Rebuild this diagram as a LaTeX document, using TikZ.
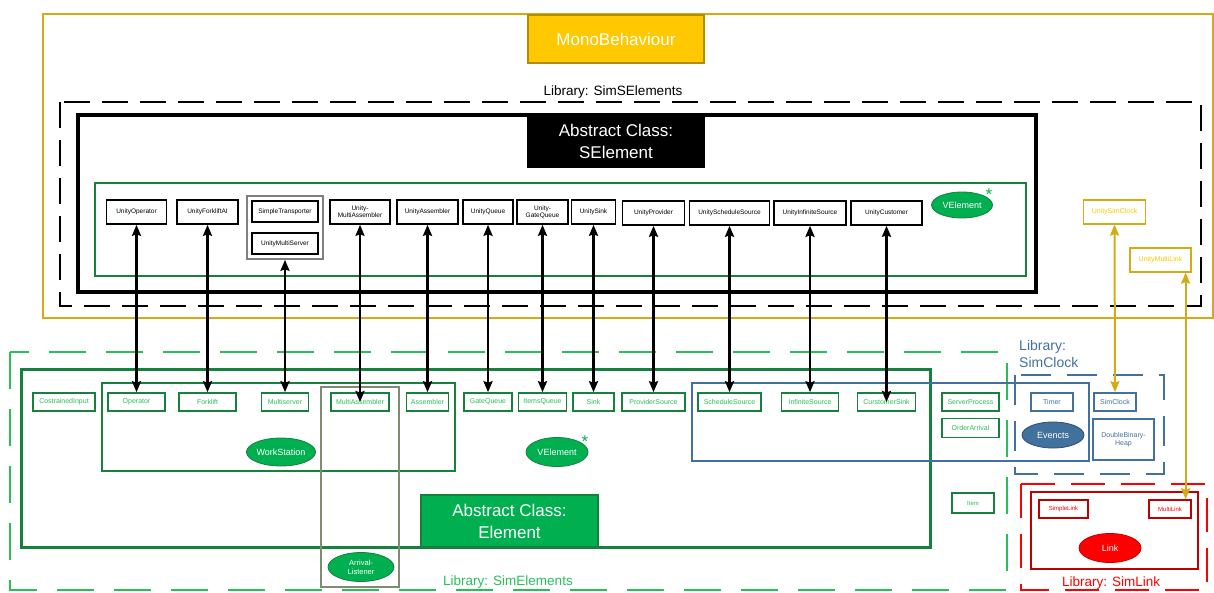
\documentclass[tikz,border=0pt]{standalone}
\usepackage{fontspec}
\setmainfont{Liberation Sans}
\usetikzlibrary{shapes.geometric,arrows.meta,fit,positioning}
\definecolor{monogold}{RGB}{255,200,0}
\definecolor{goldline}{RGB}{214,170,20}
\definecolor{monoedge}{RGB}{180,140,0}
\definecolor{elemgreen}{RGB}{0,176,80}
\definecolor{darkgreen}{RGB}{20,130,60}
\definecolor{textgreen}{RGB}{40,190,90}
\definecolor{clockblue}{RGB}{65,113,156}
\definecolor{linkred}{RGB}{255,0,0}
\definecolor{darkred}{RGB}{192,0,0}
\definecolor{groupgray}{RGB}{127,127,127}
\definecolor{listenergray}{RGB}{128,140,112}
\tikzset{
  unitybox/.style = {draw=black, line width=1.6pt, minimum height=24pt, inner sep=1pt, align=center, font=\fontsize{6.5}{7}\selectfont},
  elembox/.style = {draw=darkgreen, line width=1.6pt, text=textgreen, minimum height=18pt, inner sep=1pt, align=center, font=\fontsize{7}{8}\selectfont},
  clockbox/.style = {elembox, draw=clockblue, text=clockblue},
  linkbox/.style = {elembox, draw=darkred, text=linkred, font=\fontsize{6}{7}\selectfont},
  monobox/.style = {unitybox, draw=goldline, text=monogold, line width=1.2pt, font=\fontsize{7}{8}\selectfont},
  classnode/.style = {ellipse, draw=darkgreen, line width=0.8pt, fill=elemgreen, text=white, inner sep=0pt, align=center, font=\fontsize{9}{10}\selectfont},
  titlebox/.style = {draw, line width=1.5pt, text=white, inner sep=0pt, align=center, font=\fontsize{17}{22}\selectfont},
  liblabel/.style = {inner sep=0pt, font=\fontsize{13.5}{16}\selectfont},
  greenstar/.style = {text=elemgreen, inner sep=0pt, font=\fontsize{17}{17}\selectfont}
}

\begin{document}
\begin{tikzpicture}[x=1pt, y=-1pt, >={Stealth[length=11pt, width=9pt, inset=1.5pt]}]
\useasboundingbox (0,0) rectangle (1214,592);

% MonoBehaviour and library SimSElements
\draw[goldline, line width=2.2pt] (43,14) rectangle (1213,318);
\node[titlebox, draw=monoedge, fill=monogold, minimum width=176pt, minimum height=48pt] (mono) at (616,39) {MonoBehaviour};
\node[liblabel] (simselib) at (613,92) {Library: SimSElements};
\draw[black, line width=2.6pt, dash pattern=on 26pt off 12pt] (60,102) rectangle (1201,306);
\draw[black, line width=3.5pt] (78,115) rectangle (1036,292);
\node[titlebox, draw=black, fill=black, minimum width=176pt, minimum height=52pt] (selem) at (616,141) {Abstract Class:\\SElement};
\draw[darkgreen, line width=2.2pt] (95,183) rectangle (1026,276);

\node[unitybox, minimum width=60pt] (uop) at (136.5,212) {UnityOperator};
\node[unitybox, minimum width=61pt] (ufork) at (207.5,212) {UnityForkliftAI};
\node[unitybox, minimum width=66pt, minimum height=21pt] (strans) at (285,211.5) {SimpleTransporter};
\node[unitybox, minimum width=66pt, minimum height=21pt] (umserver) at (285,243.5) {UnityMultiServer};
\node[fit=(strans)(umserver), draw=groupgray, line width=2pt, inner sep=4pt] (stgroup) {};
\node[unitybox, minimum width=60pt] (umassm) at (360,212) {Unity-\\MultiAssembler};
\node[unitybox, minimum width=61pt] (uassm) at (427.5,212) {UnityAssembler};
\node[unitybox, minimum width=50pt] (uqueue) at (488,212) {UnityQueue};
\node[unitybox, minimum width=51pt] (ugate) at (542.5,212) {Unity-\\GateQueue};
\node[unitybox, minimum width=44pt] (usink) at (593.5,212) {UnitySink};
\node[unitybox, minimum width=62pt] (uprov) at (653.5,213) {UnityProvider};
\node[unitybox, minimum width=80pt] (usched) at (729.5,213) {UnityScheduleSource};
\node[unitybox, minimum width=72pt] (uinf) at (810,213) {UnityInfiniteSource};
\node[unitybox, minimum width=71pt] (ucust) at (886.5,213) {UnityCustomer};
\node[classnode, minimum width=61pt, minimum height=26pt] (vsel) at (962,205) {VElement};
\node[greenstar] (vselstar) at (989,195) {*};

\node[monobox, minimum width=62pt, minimum height=24pt] (usimclk) at (1114.5,212) {UnitySimClock};
\node[monobox, minimum width=61pt, minimum height=24pt] (umlink) at (1160.5,260) {UnityMultiLink};

% library SimElements
\draw[textgreen, line width=2pt, dash pattern=on 37pt off 20pt] (10,352) rectangle (1007,590);
\draw[darkgreen, line width=3pt] (21,369) rectangle (930,547);
\node[titlebox, draw=darkgreen, fill=elemgreen, minimum width=177pt, minimum height=52pt] (elem) at (509.5,521) {Abstract Class:\\Element};
\draw[darkgreen, line width=2pt] (102,383) rectangle (455,471);
\draw[listenergray, line width=1.6pt] (321,387) rectangle (399,587);
\node[liblabel, text=textgreen] (simelib) at (508,582) {Library: SimElements};

\node[elembox, minimum width=62pt] (cinput) at (64,402) {CostrainedInput};
\node[elembox, minimum width=57pt] (op) at (136.5,402) {Operator};
\node[elembox, minimum width=57pt] (fork) at (207.5,402) {Forklift};
\node[elembox, minimum width=47pt] (mserv) at (285,402) {Multiserver};
\node[elembox, minimum width=58pt] (massm) at (360,402) {MultiAssembler};
\node[elembox, minimum width=42pt] (assm) at (427.5,402) {Assembler};
\node[elembox, minimum width=48pt] (gqueue) at (488,402) {GateQueue};
\node[elembox, minimum width=48pt] (iqueue) at (542.5,402) {ItemsQueue};
\node[elembox, minimum width=41pt] (sink) at (593.5,402) {Sink};
\node[elembox, minimum width=63pt] (provsrc) at (653.5,402) {ProviderSource};
\node[elembox, minimum width=63pt] (schedsrc) at (729.5,402) {ScheduleSource};
\node[elembox, minimum width=57pt] (infsrc) at (810,402) {InfiniteSource};
\node[elembox, minimum width=58pt] (custsink) at (886.5,402) {CurstomerSink};
\node[elembox, minimum width=57pt] (sproc) at (970.5,402) {ServerProcess};
\node[elembox, minimum width=57pt, minimum height=19pt] (oarr) at (970.5,428) {OrderArrival};
\node[elembox, minimum width=42pt, minimum height=20pt, font=\fontsize{6}{7}\selectfont] (item) at (973,503) {Item};

\node[classnode, minimum width=68pt, minimum height=28pt] (wstation) at (281,452) {WorkStation};
\node[classnode, minimum width=62pt, minimum height=29pt] (velem) at (557,452) {VElement};
\node[greenstar] (velemstar) at (585,442) {*};
\node[classnode, minimum width=66pt, minimum height=29pt, font=\fontsize{7.5}{9}\selectfont] (alisten) at (361,567) {Arrival-\\Listener};

% library SimClock
\draw[clockblue, line width=1.6pt] (692,383) -- (1089,383) -- (1089,461) -- (692,461) -- cycle;
\draw[clockblue, line width=2pt, dash pattern=on 30pt off 16pt] (1015,375) rectangle (1164,474);
\node[liblabel, text=clockblue, align=left, anchor=north west, font=\fontsize{14}{17}\selectfont] (clocklib) at (1019,340) {Library:\\SimClock};
\node[clockbox, minimum width=42pt] (timer) at (1052,402) {Timer};
\node[clockbox, minimum width=42pt] (simclk) at (1115,402) {SimClock};
\node[clockbox, minimum width=61pt, minimum height=41pt] (dbheap) at (1123.5,439.5) {DoubleBinary-\\Heap};
\node[classnode, draw=clockblue!70!black, fill=clockblue, minimum width=62pt, minimum height=26pt] (evencts) at (1053,435) {Evencts};

% library SimLink
\draw[linkred, line width=2.2pt, dash pattern=on 34pt off 16pt] (1021,484) rectangle (1207,590);
\draw[darkred, line width=2pt] (1031,492) rectangle (1198,569);
\node[linkbox, minimum width=49pt] (slink) at (1063.5,509) {SimpleLink};
\node[linkbox, minimum width=42pt] (mlink) at (1170,509) {MultiLink};
\node[classnode, draw=darkred, fill=linkred, minimum width=62pt, minimum height=29pt] (link) at (1110,548) {Link};
\node[liblabel, text=linkred] (linklib) at (1111,583) {Library: SimLink};

% connections
\draw[<->, line width=2.6pt] (uop.south) -- (op.north);
\draw[<->, line width=2.6pt] (ufork.south) -- (fork.north);
\draw[<->, line width=2.6pt] (stgroup.south) -- (mserv.north);
\draw[<->, line width=2.6pt] (umassm.south) -- (massm.center);
\draw[<->, line width=2.6pt] (uassm.south) -- (assm.north);
\draw[<->, line width=2.6pt] (uqueue.south) -- (gqueue.north);
\draw[<->, line width=2.6pt] (ugate.south) -- (iqueue.north);
\draw[<->, line width=2.6pt] (usink.south) -- (sink.north);
\draw[<->, line width=2.6pt] (uprov.south) -- (provsrc.north);
\draw[<->, line width=2.6pt] (usched.south) -- (schedsrc.north);
\draw[<->, line width=2.6pt] (uinf.south) -- (infsrc.north);
\draw[<->, line width=2.6pt] (ucust.south) -- (custsink.center);
\draw[<->, goldline, line width=2pt] (usimclk.south) -- (simclk.north);
\draw[<->, goldline, line width=2pt] ([xshift=-6pt]umlink.south east) -- ([xshift=-6pt]umlink.south east |- mlink.north);
\end{tikzpicture}
\end{document}
